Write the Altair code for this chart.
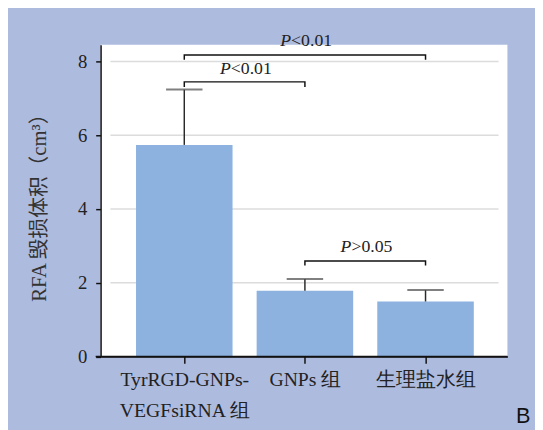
import json
import altair as alt
import pandas as pd

# ---- data ----
groups = ["TyrRGD-GNPs-VEGFsiRNA 组", "GNPs 组", "生理盐水组"]
group_lines = [["TyrRGD-GNPs-", "VEGFsiRNA 组"], ["GNPs 组"], ["生理盐水组"]]
group_idx = [0, 1, 2]
means = [5.74, 1.78, 1.49]
upper = [7.24, 2.10, 1.80]

y_ticks = [0, 2, 4, 6, 8]
grid_vals = [2, 4, 6, 8]

# significance brackets
br_p = ["P", "P", "P"]
br_rest = ["<0.01", "<0.01", ">0.05"]
br_from = [0, 0, 1]
br_to = [2, 1, 2]
br_y = [8.18, 7.45, 2.59]
br_foot = [8.05, 7.31, 2.47]
br_text_y = [8.43, 7.66, 2.83]

# ---- style ----
BG = "#adbbdf"
BAR = "#8db2e0"
SERIF = "Liberation Serif"
TITLE_FONT = "Liberation Serif, Noto Sans CJK SC"

bars_df = pd.DataFrame({"idx": group_idx, "group": groups, "mean": means, "upper": upper})
grid_df = pd.DataFrame({"v": grid_vals})
base_df = pd.DataFrame({"v": [0]})

pts = []
for i in range(len(br_y)):
    pts += [
        {"b": i, "o": 0, "x": br_from[i], "y": br_foot[i]},
        {"b": i, "o": 1, "x": br_from[i], "y": br_y[i]},
        {"b": i, "o": 2, "x": br_to[i], "y": br_y[i]},
        {"b": i, "o": 3, "x": br_to[i], "y": br_foot[i]},
    ]
br_df = pd.DataFrame(pts)
txt_df = pd.DataFrame({
    "x": [(a + b) / 2 for a, b in zip(br_from, br_to)],
    "y": br_text_y,
    "p": br_p,
    "rest": br_rest,
})

label_expr = " : ".join(
    f"datum.value == {i} ? {json.dumps(l if len(l) > 1 else l[0], ensure_ascii=False)}"
    for i, l in enumerate(group_lines[:-1])
) + " : " + json.dumps(group_lines[-1][0], ensure_ascii=False)

xscale = alt.Scale(domain=[-0.653, 2.638], nice=False, zero=False)
yscale = alt.Scale(domain=[0, 8.46], nice=False)

x_axis = alt.Axis(
    values=group_idx, labelExpr=label_expr, title=None, grid=False,
    domainColor="#111", domainWidth=1.5, tickColor="#111", tickWidth=1.5, tickSize=7,
    labelFont=SERIF, labelFontSize=20, labelColor="#222", labelPadding=7,
    labelLineHeight=31, labelBaseline="top", labelAngle=0,
)
y_axis = alt.Axis(
    values=y_ticks, grid=False, title="RFA 毁损体积（cm³）",
    domainColor="#111", domainWidth=1.5, tickColor="#111", tickWidth=1.5, tickSize=5,
    labelFont=SERIF, labelFontSize=19, labelColor="#222", labelPadding=9,
    titleFont=TITLE_FONT, titleFontSize=21, titleFontWeight="normal", titleColor="#333",
    titleX=-62, titleY=160, titleAngle=270, titleAlign="center", titleBaseline="middle",
)

grid = alt.Chart(grid_df).mark_rule(color="#dcdcdc", strokeWidth=1.5).encode(
    y=alt.Y("v:Q", scale=yscale), x=alt.value(10), x2=alt.value(404)
)
baseline = alt.Chart(base_df).mark_rule(color="#111", strokeWidth=1.5).encode(
    y="v:Q", x=alt.value(-5), x2=alt.value(413)
)

bars = alt.Chart(bars_df).mark_bar(size=98, color=BAR).encode(
    x=alt.X("idx:Q", scale=xscale, axis=x_axis),
    y=alt.Y("mean:Q", scale=yscale, axis=y_axis),
)
err = alt.Chart(bars_df).mark_rule(color="#2a2a2a", strokeWidth=1.5).encode(
    x="idx:Q", y="mean:Q", y2="upper:Q"
)
caps = alt.Chart(bars_df).mark_tick(orient="horizontal", size=37, thickness=2, color="#4a4a4a").encode(
    x="idx:Q", y="upper:Q"
)
brackets = alt.Chart(br_df).mark_line(color="#111", strokeWidth=1.5, interpolate="linear").encode(
    x="x:Q", y="y:Q", detail="b:N", order="o:Q"
)
ptxt = alt.Chart(txt_df).mark_text(
    font=SERIF, fontSize=18, fontStyle="italic", align="right", baseline="alphabetic", dx=-14, color="#222"
).encode(x="x:Q", y="y:Q", text="p:N")
rtxt = alt.Chart(txt_df).mark_text(
    font=SERIF, fontSize=18, align="left", baseline="alphabetic", dx=-14, color="#222"
).encode(x="x:Q", y="y:Q", text="rest:N")

btxt = alt.Chart(pd.DataFrame({"t": ["B"]})).mark_text(
    font="Liberation Sans", fontSize=22, align="center", baseline="alphabetic", color="#111"
).encode(x=alt.value(429), y=alt.value(384), text="t:N")

chart = alt.layer(grid, bars, baseline, err, caps, brackets, ptxt, rtxt, btxt).properties(
    width=413, height=316.5,
    background=BG,
    padding={"left": 94, "top": 34, "right": 28, "bottom": 72},
    autosize=alt.AutoSizeParams(type="none"),
).configure_view(fill="white", stroke=None)

chart.save("out.html", embed_options={"renderer": "svg", "actions": False})
